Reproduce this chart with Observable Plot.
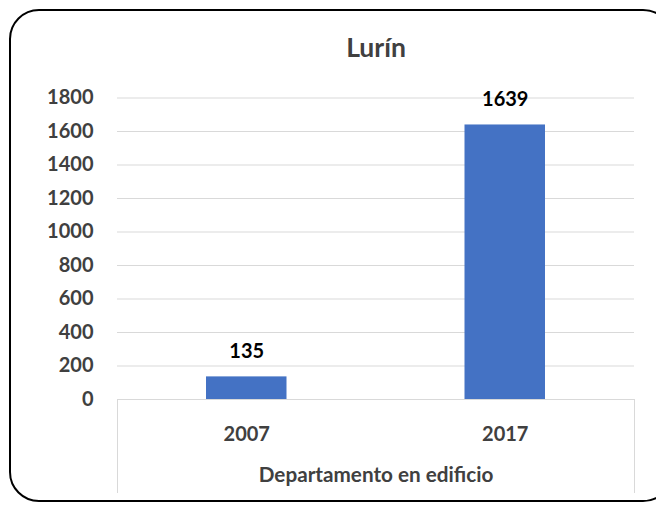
<!DOCTYPE html>
<html>
<head>
<meta charset="utf-8">
<script src="https://cdn.jsdelivr.net/npm/d3@7"></script>
<script src="https://cdn.jsdelivr.net/npm/@observablehq/plot@0.6"></script>
<style>
  html, body { margin: 0; padding: 0; background: #fff; overflow: hidden; }
  #wrap { position: relative; width: 656px; height: 505px; overflow: hidden; }
  #border { position: absolute; left: 9px; top: 9px; width: 660px; height: 489px;
            border: 2px solid #000; border-radius: 30px; pointer-events: none; }
  #chart { position: absolute; left: 0; top: 0; }
</style>
</head>
<body>
<div id="wrap"><div id="chart"></div><div id="border"></div></div>
<script>
const title = "Lurín";
const axisTitle = "Departamento en edificio";
const categories = ["2007", "2017"];
const values = [135, 1639];
const yTicks = [0, 200, 400, 600, 800, 1000, 1200, 1400, 1600, 1800];

const data = categories.map((c, i) => ({cat: c, i, v: values[i]}));
const font = "Lato, 'Open Sans', sans-serif";
const grey = "#404040";

const chart = Plot.plot({
  width: 656,
  height: 505,
  marginTop: 97.5,
  marginBottom: 106,
  marginLeft: 117,
  marginRight: 22,
  style: {fontFamily: font, background: "transparent"},
  x: {domain: [0, categories.length]},
  y: {domain: [0, 1800]},
  marks: [
    Plot.gridY(yTicks, {stroke: "#d9d9d9", strokeOpacity: 1}),
    Plot.axisY(yTicks, {tickSize: 0, tickPadding: 24, fontSize: 20, fontWeight: "bold", fill: grey, label: null,
      tickFormat: (d) => String(d)}),
    Plot.axisX([0, categories.length], {tickSize: 94, stroke: "#d9d9d9", tickFormat: () => "", label: null}),
    Plot.axisX(categories.map((c, i) => i + 0.5), {tickSize: 0, tickPadding: 27, fontSize: 20, fontWeight: "bold", fill: grey,
      tickFormat: (d) => categories[Math.floor(d)], label: null}),
    Plot.rectY(data, {x1: "i", x2: (d) => d.i + 1, y: "v", fill: "#4472C4", insetLeft: 89, insetRight: 89}),
    Plot.text(data, {x: (d) => d.i + 0.5, y: "v", text: (d) => String(d.v), dy: -25, fontSize: 20, fontWeight: "bold", fill: "#000"}),
    Plot.text([title], {frameAnchor: "top", lineAnchor: "middle", dy: -49, fontSize: 26.5, fontWeight: "bold", fill: grey}),
    Plot.text([axisTitle], {frameAnchor: "bottom", lineAnchor: "middle", dy: 76, fontSize: 20.7, fontWeight: "bold", fill: grey})
  ]
});
document.getElementById("chart").appendChild(chart);
</script>
</body>
</html>
